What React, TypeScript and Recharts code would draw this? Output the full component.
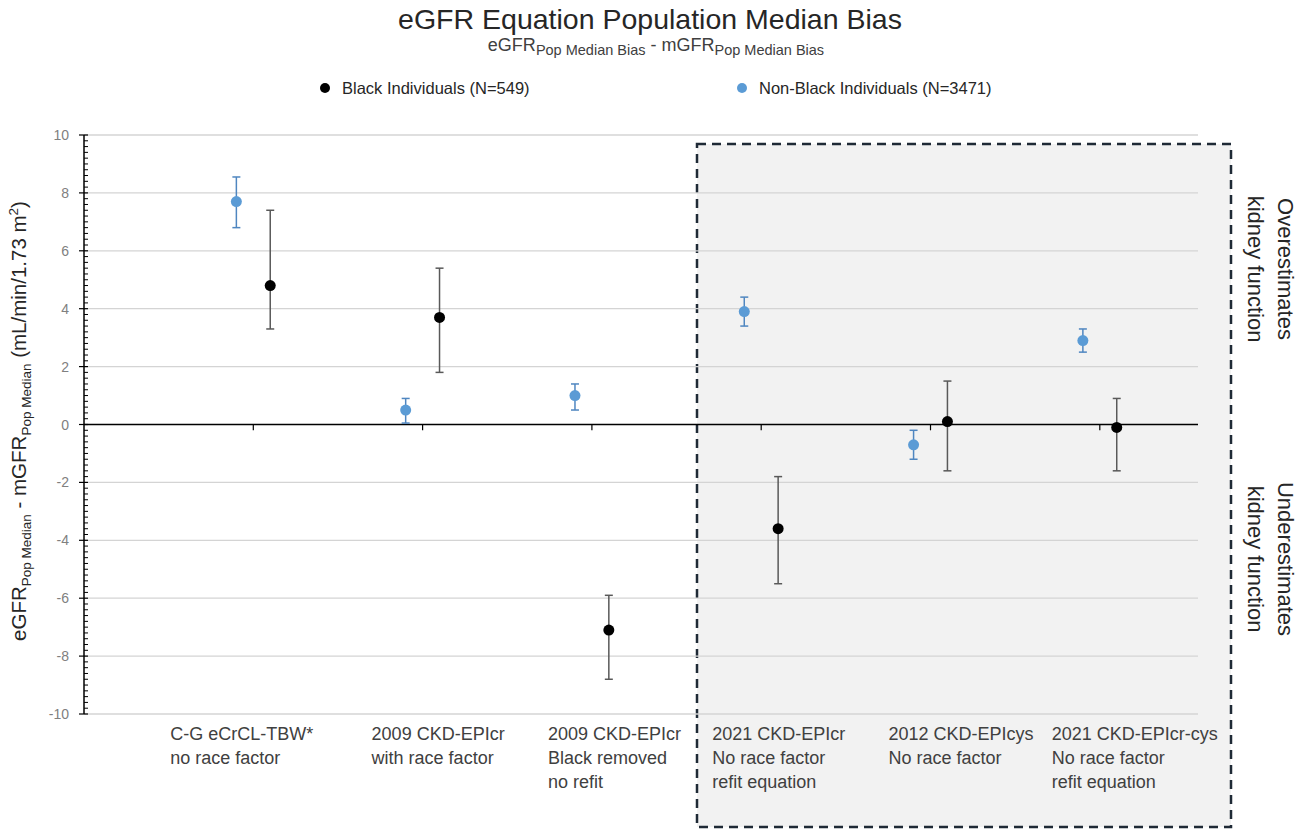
import {
  ScatterChart,
  Scatter,
  XAxis,
  YAxis,
  ErrorBar,
  ReferenceLine,
  Legend,
} from "recharts";

document.body.style.margin = "0";

const FONT = '"Liberation Sans", Arial, sans-serif';

// equation labels, one entry per line
const CATEGORY_LINES = [
  ["C-G eCrCL-TBW*", "no race factor"],
  ["2009 CKD-EPIcr", "with race factor"],
  ["2009 CKD-EPIcr", "Black removed", "no refit"],
  ["2021 CKD-EPIcr", "No race factor", "refit equation"],
  ["2012 CKD-EPIcys", "No race factor"],
  ["2021 CKD-EPIcr-cys", "No race factor", "refit equation"],
];

const BLACK_MEDIAN = [4.8, 3.7, -7.1, -3.6, 0.1, -0.1];
const BLACK_LOW = [3.3, 1.8, -8.8, -5.5, -1.6, -1.6];
const BLACK_HIGH = [7.4, 5.4, -5.9, -1.8, 1.5, 0.9];

const NONBLACK_MEDIAN = [7.7, 0.5, 1.0, 3.9, -0.7, 2.9];
const NONBLACK_LOW = [6.8, 0.05, 0.5, 3.4, -1.2, 2.5];
const NONBLACK_HIGH = [8.55, 0.9, 1.4, 4.4, -0.2, 3.3];

const Y_MAJOR = [-10, -8, -6, -4, -2, 0, 2, 4, 6, 8, 10];
const Y_MINOR = Array.from({ length: 101 }, (_, k) => (k - 50) / 5);
const X_TICKS = [1, 2, 3, 4, 5, 6];

// left edge of each label block, relative to its tick
const LABEL_SHIFT = [-83, -51, -44, -49, -42, -48];

const SERIES_OFFSET = 0.1;

const toPoints = (med: number[], low: number[], high: number[], dx: number) =>
  med.map((v, i) => ({
    x: i + 1 + dx,
    y: v,
    err: [v - low[i], high[i] - v],
  }));

const blackData = toPoints(BLACK_MEDIAN, BLACK_LOW, BLACK_HIGH, SERIES_OFFSET);
const nonBlackData = toPoints(NONBLACK_MEDIAN, NONBLACK_LOW, NONBLACK_HIGH, -SERIES_OFFSET);

function YTick({ x, y, payload }: any) {
  const v = payload.value;
  const k = Math.round(v * 5);
  if (k % 10 === 0) {
    return (
      <g>
        <line x1={x - 5} x2={x + 4} y1={y} y2={y} stroke="#000" strokeWidth={1.2} />
        <text x={x - 15} y={y} dy={5} textAnchor="end" fill="#808080" fontSize={14} fontFamily={FONT}>
          {k / 5}
        </text>
      </g>
    );
  }
  return <line x1={x} x2={x + 4} y1={y} y2={y} stroke="#000" strokeWidth={1} />;
}

function XTick({ x, y, payload }: any) {
  const idx = Math.round(payload.value) - 1;
  const lines = CATEGORY_LINES[idx] || [];
  return (
    <text x={x + LABEL_SHIFT[idx]} y={y} fill="#404040" fontSize={18} fontFamily={FONT}>
      {lines.map((ln, i) => (
        <tspan key={i} x={x + LABEL_SHIFT[idx]} y={y + 26 + i * 24}>
          {ln}
        </tspan>
      ))}
    </text>
  );
}

function Dot({ cx, cy, fill }: any) {
  return <circle cx={cx} cy={cy} r={5.5} fill={fill} />;
}

function LegendBox() {
  const item = (left: number, color: string, label: string) => (
    <div style={{ position: "absolute", left, top: 0, height: 24, display: "flex", alignItems: "center" }}>
      <span style={{ width: 10, height: 10, borderRadius: 5, background: color, display: "inline-block" }} />
      <span style={{ marginLeft: 12, fontSize: 16.5, color: "#262626", fontFamily: FONT }}>{label}</span>
    </div>
  );
  return (
    <div style={{ position: "relative", width: 1299, height: 24 }}>
      {item(320, "#000000", "Black Individuals (N=549)")}
      {item(737, "#5b9bd5", "Non-Black Individuals (N=3471)")}
    </div>
  );
}

export default function App() {
  return (
    <div style={{ position: "relative", width: 1299, height: 829, fontFamily: FONT, background: "#fff" }}>
      {/* shaded group of race-free equations */}
      <svg width={1299} height={829} style={{ position: "absolute", left: 0, top: 0 }}>
        <rect x={697} y={144} width={534} height={683} fill="#f2f2f2" stroke="#1f2a36" strokeWidth={2.5} strokeDasharray="9 6" />
      </svg>

      <div style={{ position: "absolute", left: 0, top: 0 }}>
        <ScatterChart width={1299} height={829} margin={{ top: 135, right: 101, left: 24, bottom: 0 }}>
          <XAxis
            type="number"
            dataKey="x"
            domain={[0, 6.58]}
            ticks={X_TICKS}
            interval={0}
            axisLine={false}
            tickLine={false}
            tickSize={0}
            tickMargin={0}
            height={115}
            tick={<XTick />}
          />
          <YAxis
            type="number"
            dataKey="y"
            domain={[-10, 10]}
            ticks={Y_MINOR}
            interval={0}
            width={60}
            tickLine={false}
            tickSize={0}
            tickMargin={0}
            axisLine={{ stroke: "#000", strokeWidth: 1.5 }}
            tick={<YTick />}
          />
          {Y_MAJOR.filter((v) => v !== 0).map((v) => (
            <ReferenceLine key={v} y={v} stroke="#d4d4d4" strokeWidth={1.3} />
          ))}
          <ReferenceLine y={0} stroke="#000" strokeWidth={1.5} />
          {X_TICKS.map((t) => (
            <ReferenceLine key={"t" + t} segment={[{ x: t, y: 0 }, { x: t, y: -0.2 }]} stroke="#000" strokeWidth={1.2} />
          ))}
          <Legend
            layout="horizontal"
            verticalAlign="middle"
            align="center"
            wrapperStyle={{ top: 76, left: 0, width: 1299 }}
            content={() => <LegendBox />}
          />
          <Scatter
            name="Black Individuals (N=549)"
            data={blackData}
            fill="#000000"
            shape={<Dot />}
            isAnimationActive={false}
          >
            <ErrorBar dataKey="err" direction="y" width={4} stroke="#595959" strokeWidth={1.5} isAnimationActive={false} />
          </Scatter>
          <Scatter
            name="Non-Black Individuals (N=3471)"
            data={nonBlackData}
            fill="#5b9bd5"
            shape={<Dot />}
            isAnimationActive={false}
          >
            <ErrorBar dataKey="err" direction="y" width={4} stroke="#4f86c0" strokeWidth={1.5} isAnimationActive={false} />
          </Scatter>
        </ScatterChart>
      </div>

      {/* titles and side notes */}
      <svg width={1299} height={829} style={{ position: "absolute", left: 0, top: 0, pointerEvents: "none" }} fontFamily={FONT}>
        <text x={650} y={29} textAnchor="middle" fontSize={28.5} fill="#262626">
          eGFR Equation Population Median Bias
        </text>
        <text x={656} y={51} textAnchor="middle" fontSize={18} fill="#404040">
          eGFR
          <tspan fontSize={14.5} dy={4}>Pop Median Bias</tspan>
          <tspan fontSize={18} dy={-4}> - mGFR</tspan>
          <tspan fontSize={14.5} dy={4}>Pop Median Bias</tspan>
        </text>
        <text transform="translate(26,421) rotate(-90)" textAnchor="middle" fontSize={20.5} fill="#262626">
          eGFR
          <tspan fontSize={13.5} dy={5}>Pop Median</tspan>
          <tspan fontSize={20.5} dy={-5}> - mGFR</tspan>
          <tspan fontSize={13.5} dy={5}>Pop Median</tspan>
          <tspan fontSize={20.5} dy={-5}> (mL/min/1.73 m</tspan>
          <tspan fontSize={13.5} dy={-8}>2</tspan>
          <tspan fontSize={20.5} dy={8}>)</tspan>
        </text>
        <text transform="translate(1285,269) rotate(90)" textAnchor="middle" dominantBaseline="central" fontSize={22} fill="#262626">
          Overestimates
        </text>
        <text transform="translate(1255,269) rotate(90)" textAnchor="middle" dominantBaseline="central" fontSize={22} fill="#262626">
          kidney function
        </text>
        <text transform="translate(1285,559) rotate(90)" textAnchor="middle" dominantBaseline="central" fontSize={22} fill="#262626">
          Underestimates
        </text>
        <text transform="translate(1255,559) rotate(90)" textAnchor="middle" dominantBaseline="central" fontSize={22} fill="#262626">
          kidney function
        </text>
      </svg>
    </div>
  );
}
